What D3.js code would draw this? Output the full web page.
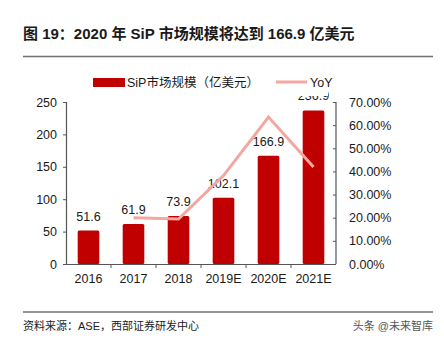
<!DOCTYPE html>
<html>
<head>
<meta charset="utf-8">
<script src="https://cdn.jsdelivr.net/npm/d3@7"></script>
<style>
  body { margin: 0; background: #fff; }
</style>
</head>
<body>
<div id="chart"></div>
<script>
const years = ["2016", "2017", "2018", "2019E", "2020E", "2021E"];
const market = [51.6, 61.9, 73.9, 102.1, 166.9, 236.9];
const yoy = [null, 0.20, 0.194, 0.382, 0.635, 0.419];
const leftTicks = [0, 50, 100, 150, 200, 250];
const rightTicks = [0, 0.1, 0.2, 0.3, 0.4, 0.5, 0.6, 0.7];

const width = 444, height = 346;
const font = "'Liberation Sans', Arial, 'Noto Sans CJK SC', sans-serif";

const svg = d3.select("#chart").append("svg")
  .attr("width", width)
  .attr("height", height)
  .style("font-family", font);

const x = d3.scaleBand().domain(years).range([66, 336]).paddingInner(0.52).paddingOuter(0.26);
const xb = d3.scaleBand().domain(years).range([66, 336]);
const y = d3.scaleLinear().domain([0, 250]).range([264, 102]);
const y2 = d3.scaleLinear().domain([0, 0.7]).range([264, 102]);

// Title
svg.append("text")
  .attr("x", 23).attr("y", 39)
  .attr("font-size", 15).attr("font-weight", "bold").attr("fill", "#1a1a1a")
  .text("图 19：2020 年 SiP 市场规模将达到 166.9 亿美元");
svg.append("line")
  .attr("x1", 23).attr("x2", 433).attr("y1", 56.5).attr("y2", 56.5)
  .attr("stroke", "#707070").attr("stroke-width", 1.5);

// Bars
svg.selectAll(".bar")
  .data(market)
  .join("rect")
    .attr("class", "bar")
    .attr("x", (d, i) => x(years[i]))
    .attr("y", d => y(d))
    .attr("width", x.bandwidth())
    .attr("height", d => y(0) - y(d))
    .attr("rx", 1.5)
    .attr("fill", "#C00000");

// Bar labels
svg.selectAll(".val")
  .data(market)
  .join("text")
    .attr("class", "val")
    .attr("x", (d, i) => xb(years[i]) + xb.bandwidth() / 2)
    .attr("y", d => y(d) - 10)
    .attr("text-anchor", "middle")
    .attr("font-size", 12.5)
    .attr("fill", "#1a1a1a")
    .text(d => d.toFixed(1));

// YoY line
const line = d3.line()
  .defined(d => d != null)
  .x((d, i) => xb(years[i]) + xb.bandwidth() / 2)
  .y(d => y2(d));
svg.append("path")
  .datum(yoy)
  .attr("d", line)
  .attr("fill", "none")
  .attr("stroke", "#F4A7A0")
  .attr("stroke-width", 3);

// Left axis
const gl = svg.append("g").attr("transform", "translate(66,0)")
  .call(d3.axisLeft(y).tickValues(leftTicks).tickSize(3).tickPadding(6));
// Right axis (ticks inward)
const gr = svg.append("g").attr("transform", "translate(336,0)")
  .call(d3.axisRight(y2).tickValues(rightTicks).tickSize(-3).tickPadding(13)
    .tickFormat(d => (d * 100).toFixed(2) + "%"));
// Bottom axis
const gb = svg.append("g").attr("transform", "translate(0,264)")
  .call(d3.axisBottom(xb).tickSize(0).tickPadding(10));
gb.selectAll(".tick line").remove();
svg.selectAll(".xtick")
  .data(years.slice(1))
  .join("line")
    .attr("x1", d => xb(d)).attr("x2", d => xb(d))
    .attr("y1", 264).attr("y2", 268)
    .attr("stroke", "#555");

[gl, gr, gb].forEach(g => {
  g.select(".domain").attr("stroke", "#555").attr("stroke-width", 1.2);
  g.selectAll(".tick line").attr("stroke", "#555");
  g.selectAll("text").attr("font-size", 12.5).attr("fill", "#1a1a1a").style("font-family", font);
});
gl.select(".domain").attr("d", "M-3,102.5H0.5V264.5");
gr.select(".domain").attr("d", "M-3,102.5H0V264");
gb.select(".domain").attr("d", "M66,0.5H336");

// Legend (white box overlaps the top label)
svg.append("rect")
  .attr("x", 88).attr("y", 66).attr("width", 240).attr("height", 30)
  .attr("fill", "#fff");
svg.append("rect")
  .attr("x", 93).attr("y", 78).attr("width", 32).attr("height", 9)
  .attr("fill", "#C00000");
svg.append("text")
  .attr("x", 127).attr("y", 87)
  .attr("font-size", 12.5).attr("fill", "#1a1a1a")
  .text("SiP市场规模（亿美元）");
svg.append("line")
  .attr("x1", 276).attr("x2", 307).attr("y1", 82).attr("y2", 82)
  .attr("stroke", "#F4A7A0").attr("stroke-width", 3);
svg.append("text")
  .attr("x", 310).attr("y", 87)
  .attr("font-size", 12.5).attr("fill", "#1a1a1a")
  .text("YoY");

// Footer
svg.append("line")
  .attr("x1", 23).attr("x2", 433).attr("y1", 312).attr("y2", 312)
  .attr("stroke", "#707070").attr("stroke-width", 1.5);
svg.append("text")
  .attr("x", 23).attr("y", 330)
  .attr("font-size", 11).attr("fill", "#1a1a1a")
  .text("资料来源：ASE，西部证券研发中心");
svg.append("text")
  .attr("x", 433).attr("y", 330)
  .attr("text-anchor", "end")
  .attr("font-size", 11).attr("fill", "#555")
  .text("头条 @未来智库");
</script>
</body>
</html>
